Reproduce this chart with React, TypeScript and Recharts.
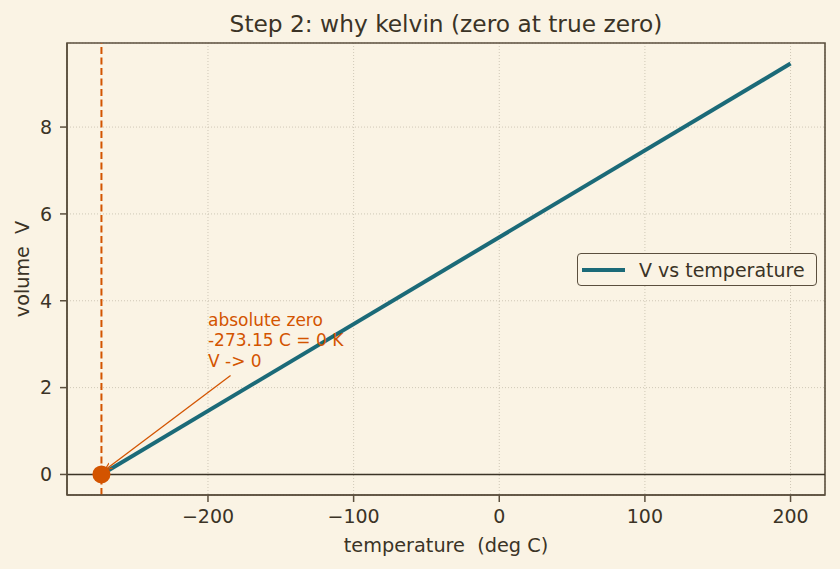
import React from "react";
import {
  LineChart,
  Line,
  XAxis,
  YAxis,
  CartesianGrid,
  ReferenceLine,
  ReferenceDot,
  ReferenceArea,
  Legend,
} from "recharts";

// main series: V proportional to kelvin
const tempC = [-273.15, 200];
const volume = [0, 9.463];

// annotation arrow (tail -> head)
const arrowTemp = [-184.5, -270.5];
const arrowV = [2.28, 0.11];

const xTicks = [-200, -100, 0, 100, 200];
const yTicks = [0, 2, 4, 6, 8];
const noteLines = ["absolute zero", "-273.15 C = 0 K", "V -> 0"];
const absZero = -273.15;
const xDomain = [-296.8, 223.66];
const yDomain = [-0.473, 9.936];

const BG = "#faf3e4";
const INK = "#3b3326";
const SPINE = "#5b4f3e";
const TEAL = "#1b6a78";
const ORANGE = "#d35400";
const FONT = "DejaVu Sans, sans-serif";

const series = tempC.map((t, i) => ({ t, v: volume[i] }));
const arrow = arrowTemp.map((t, i) => ({ t, v: arrowV[i] }));

const NoteLabel = (props: any) => {
  const vb = props.viewBox || {};
  const x = vb.cx ?? vb.x;
  const y = vb.cy ?? vb.y;
  return (
    <text x={x} y={y} fill={ORANGE} fontSize={17} fontFamily={FONT}>
      {noteLines.map((s, i) => (
        <tspan key={i} x={x} dy={i === 0 ? 0 : 20.5}>
          {s}
        </tspan>
      ))}
    </text>
  );
};

const LegendBox = () => (
  <div
    style={{
      boxSizing: "border-box",
      width: 240,
      height: 33,
      border: `1.5px solid ${SPINE}`,
      borderRadius: 4,
      background: BG,
      padding: "0 0 0 4px",
      display: "flex",
      alignItems: "center",
      fontFamily: FONT,
      fontSize: 19,
      color: INK,
      whiteSpace: "nowrap",
    }}
  >
    <span style={{ display: "inline-block", width: 43, height: 4, background: TEAL, marginRight: 14 }} />
    V vs temperature
  </div>
);

const YLabel = (props: any) => {
  const vb = props.viewBox || {};
  const cy = vb.y + vb.height / 2;
  return (
    <text
      x={22}
      y={cy}
      transform={`rotate(-90 22 ${cy})`}
      textAnchor="middle"
      dominantBaseline="central"
      fill={INK}
      fontSize={19.2}
      fontFamily={FONT}
    >
      {"volume\u00a0 V"}
    </text>
  );
};

export default function App() {
  const tickStyle = { fill: INK, fontSize: 19, fontFamily: FONT };
  return (
    <div style={{ position: "absolute", left: 0, top: 0, width: 840, height: 569, background: BG }}>
      <svg width={0} height={0} style={{ position: "absolute" }}>
        <defs>
          <marker id="arrowHead" viewBox="0 0 10 10" refX="9" refY="5" markerWidth="6" markerHeight="6" orient="auto">
            <path d="M0,1 L10,5 L0,9" fill="none" stroke={ORANGE} strokeWidth={1.6} />
          </marker>
        </defs>
      </svg>
      <div
        style={{
          position: "absolute",
          left: 0,
          top: 10,
          width: 892,
          textAlign: "center",
          fontFamily: FONT,
          fontSize: 23.3,
          lineHeight: "normal",
          color: INK,
        }}
      >
        Step 2: why kelvin (zero at true zero)
      </div>
      <LineChart width={840} height={569} margin={{ top: 43, right: 15, left: 0, bottom: 0 }}>
        <CartesianGrid stroke="#c4bcab" strokeDasharray="1 2" strokeWidth={0.8} />
        <XAxis
          type="number"
          dataKey="t"
          domain={xDomain}
          ticks={xTicks}
          allowDataOverflow
          height={74}
          stroke={SPINE}
          strokeWidth={1.5}
          tickSize={7}
          tickMargin={8}
          tick={tickStyle}
          tickFormatter={(v: number) => (v < 0 ? `\u2212${Math.abs(v)}` : `${v}`)}
          label={{ value: "temperature\u00a0 (deg C)", position: "insideBottom", offset: 17, fill: INK, fontSize: 19.3, fontFamily: FONT }}
        />
        <YAxis
          type="number"
          domain={yDomain}
          ticks={yTicks}
          allowDataOverflow
          width={67}
          stroke={SPINE}
          strokeWidth={1.5}
          tickSize={7}
          tickMargin={8}
          tick={tickStyle}
          label={<YLabel />}
        />
        <ReferenceArea
          x1={xDomain[0]}
          x2={xDomain[1]}
          y1={yDomain[0]}
          y2={yDomain[1]}
          fill="none"
          stroke={SPINE}
          strokeWidth={1.6}
          ifOverflow="visible"
        />
        <ReferenceLine y={0} stroke={INK} strokeWidth={1.4} />
        <ReferenceLine x={absZero} stroke={ORANGE} strokeWidth={2} strokeDasharray="7 3.5" />
        <Line
          data={series}
          dataKey="v"
          name="V vs temperature"
          stroke={TEAL}
          strokeWidth={4}
          dot={false}
          isAnimationActive={false}
        />
        <Line
          data={arrow}
          dataKey="v"
          legendType="none"
          stroke={ORANGE}
          strokeWidth={1.3}
          dot={false}
          markerEnd="url(#arrowHead)"
          isAnimationActive={false}
        />
        <ReferenceDot x={absZero} y={0} r={9} fill={ORANGE} stroke="none" />
        <ReferenceDot x={-200} y={3.43} r={0} stroke="none" label={<NoteLabel />} />
        <Legend
          layout="vertical"
          align="center"
          verticalAlign="middle"
          content={<LegendBox />}
          wrapperStyle={{ position: "absolute", left: 577, top: 253, width: 240 }}
        />
      </LineChart>
    </div>
  );
}
